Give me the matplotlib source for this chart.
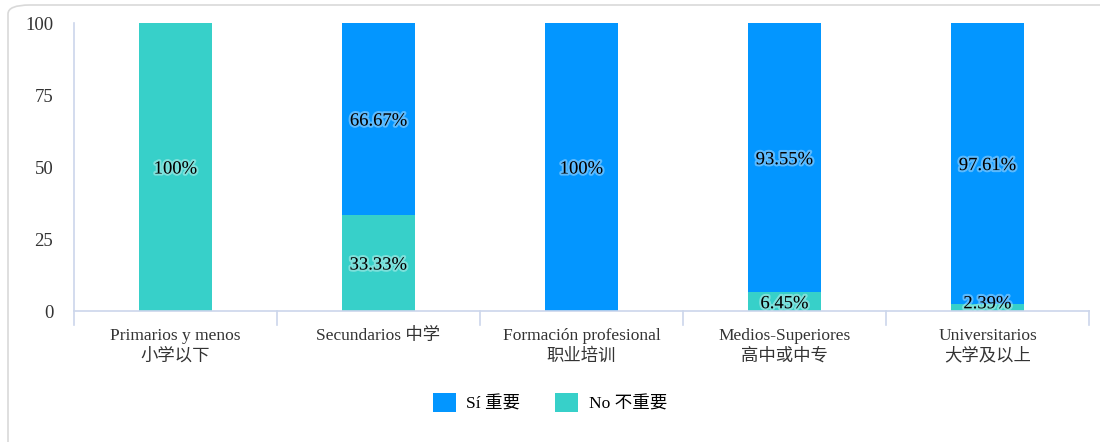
import numpy as np
import matplotlib
matplotlib.use('Agg')
import matplotlib.pyplot as plt
import matplotlib.patheffects as pe
from matplotlib.patches import FancyBboxPatch

plt.rcParams['font.family'] = ['Liberation Serif', 'Noto Sans CJK SC']

# data
categories = ['Primarios y menos\n小学以下', 'Secundarios 中学', 'Formación profesional\n职业培训',
              'Medios-Superiores\n高中或中专', 'Universitarios\n大学及以上']
si_vals = [0, 66.67, 100, 93.55, 97.61]
no_vals = [100, 33.33, 0, 6.45, 2.39]
series_names = ['Sí 重要', 'No 不重要']
y_ticks = [0, 25, 50, 75, 100]

blue = '#0396ff'
teal = '#37d0c9'
axis_col = '#ccd6eb'

fig = plt.figure(figsize=(11, 4.42), dpi=100)
# rounded border of the chart container (runs off the right/bottom edge)
border = FancyBboxPatch((8 / 1100, -0.05), 1.2, 1 - 5 / 442 + 0.05,
                        boxstyle='round,pad=0,rounding_size=0.02',
                        transform=fig.transFigure, fill=False,
                        edgecolor='#d9d9d9', linewidth=1.2)
fig.patches.append(border)

ax = fig.add_axes([74 / 1100, 1 - 311 / 442, 1015 / 1100, 288 / 442])
x = np.arange(len(categories))
w = 0.36
ax.bar(x, no_vals, w, color=teal, label=series_names[1], zorder=2)
ax.bar(x, si_vals, w, bottom=no_vals, color=blue, label=series_names[0], zorder=2)

outline = [pe.withStroke(linewidth=3, foreground='white', alpha=0.35)]
for i in range(len(categories)):
    if no_vals[i] > 0:
        yc = max(no_vals[i] / 2, 3.2)
        ax.text(x[i], yc, f'{no_vals[i]:g}%', ha='center', va='center_baseline',
                fontsize=13.4, color='black', path_effects=outline, zorder=3)
    if si_vals[i] > 0:
        yc = no_vals[i] + si_vals[i] / 2
        ax.text(x[i], yc, f'{si_vals[i]:g}%', ha='center', va='center_baseline',
                fontsize=13.4, color='black', path_effects=outline, zorder=3)

ax.set_xlim(-0.5, len(categories) - 0.5)
ax.set_ylim(0, 100)
ax.set_yticks(y_ticks)
ax.set_yticklabels([str(v) for v in y_ticks], fontsize=13.5, color='#333333')
ax.tick_params(axis='y', length=0, pad=15)

ax.set_xticks(x)
ax.set_xticklabels(categories, fontsize=12.5, color='#333333', linespacing=1.35, va='top')
ax.tick_params(axis='x', length=0, pad=12)
# category boundary ticks
for b in np.arange(0.5, len(categories), 1.0):
    ax.plot([b, b], [0, -5], color=axis_col, lw=1.2, clip_on=False)

for s in ['top', 'right']:
    ax.spines[s].set_visible(False)
ax.spines['bottom'].set_color(axis_col)
ax.spines['left'].set_color(axis_col)
ax.spines['left'].set_bounds(-5, 100)
ax.spines['bottom'].set_linewidth(1.2)
ax.spines['left'].set_linewidth(1.2)

handles, labels = ax.get_legend_handles_labels()
fig.legend(handles[::-1], labels[::-1], loc='center', bbox_to_anchor=(0.5, 1 - 403 / 442),
           ncol=2, frameon=False, fontsize=12.6, handlelength=1.3, handleheight=1.3,
           columnspacing=2.0, handletextpad=0.6)

fig.savefig('out.png', dpi=100)
